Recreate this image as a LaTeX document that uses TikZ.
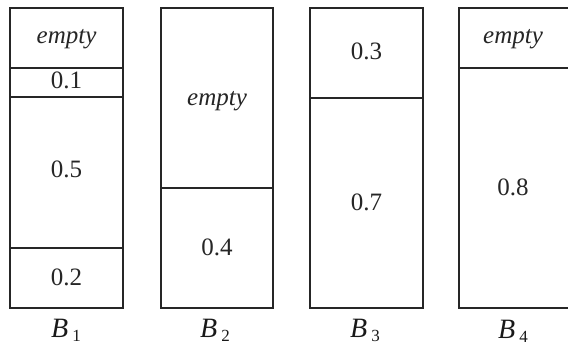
\documentclass[tikz,border=0pt]{standalone}
\usepackage{fontspec}
\setmainfont{Liberation Serif}
\newcommand{\binlab}[1]{{\itshape B}\hspace{4pt}\raisebox{-4pt}{\fontsize{17}{17}\selectfont #1}}
\begin{document}
\begin{tikzpicture}[x=1pt,y=-1pt,
  seg/.style={draw=black!85,line width=1.6pt},
  num/.style={font=\fontsize{25}{25}\selectfont, text=black!85, anchor=base, inner sep=0pt},
  emp/.style={font=\fontsize{25}{25}\selectfont\itshape, text=black!85, anchor=base, inner sep=0pt},
  lab/.style={font=\fontsize{28}{28}\selectfont, text=black!90, anchor=base west, inner sep=0pt}]
\clip (0,0) rectangle (568,348);
\fill[white] (0,0) rectangle (568,348);
% B1
\draw[seg] (10,8) rectangle (123,68);
\draw[seg] (10,68) rectangle (123,97);
\draw[seg] (10,97) rectangle (123,248);
\draw[seg] (10,248) rectangle (123,308);
\node[emp] (b1e) at (66.5,43) {empty};
\node[num] (b1a) at (66.5,88) {0.1};
\node[num] (b1b) at (66.5,177) {0.5};
\node[num] (b1c) at (66.5,285) {0.2};
\node[lab] (l1) at (51,337) {\binlab{1}};
% B2
\draw[seg] (161,8) rectangle (273,188);
\draw[seg] (161,188) rectangle (273,308);
\node[emp] (b2e) at (217,105) {empty};
\node[num] (b2a) at (217,255) {0.4};
\node[lab] (l2) at (200,337) {\binlab{2}};
% B3
\draw[seg] (310,8) rectangle (423,98);
\draw[seg] (310,98) rectangle (423,308);
\node[num] (b3a) at (366.5,59) {0.3};
\node[num] (b3b) at (366.5,210) {0.7};
\node[lab] (l3) at (350,337) {\binlab{3}};
% B4
\draw[seg] (459,8) rectangle (572,68);
\draw[seg] (459,68) rectangle (572,308);
\node[emp] (b4e) at (513,43) {empty};
\node[num] (b4a) at (513,195) {0.8};
\node[lab] (l4) at (498,338) {\binlab{4}};
\end{tikzpicture}
\end{document}
